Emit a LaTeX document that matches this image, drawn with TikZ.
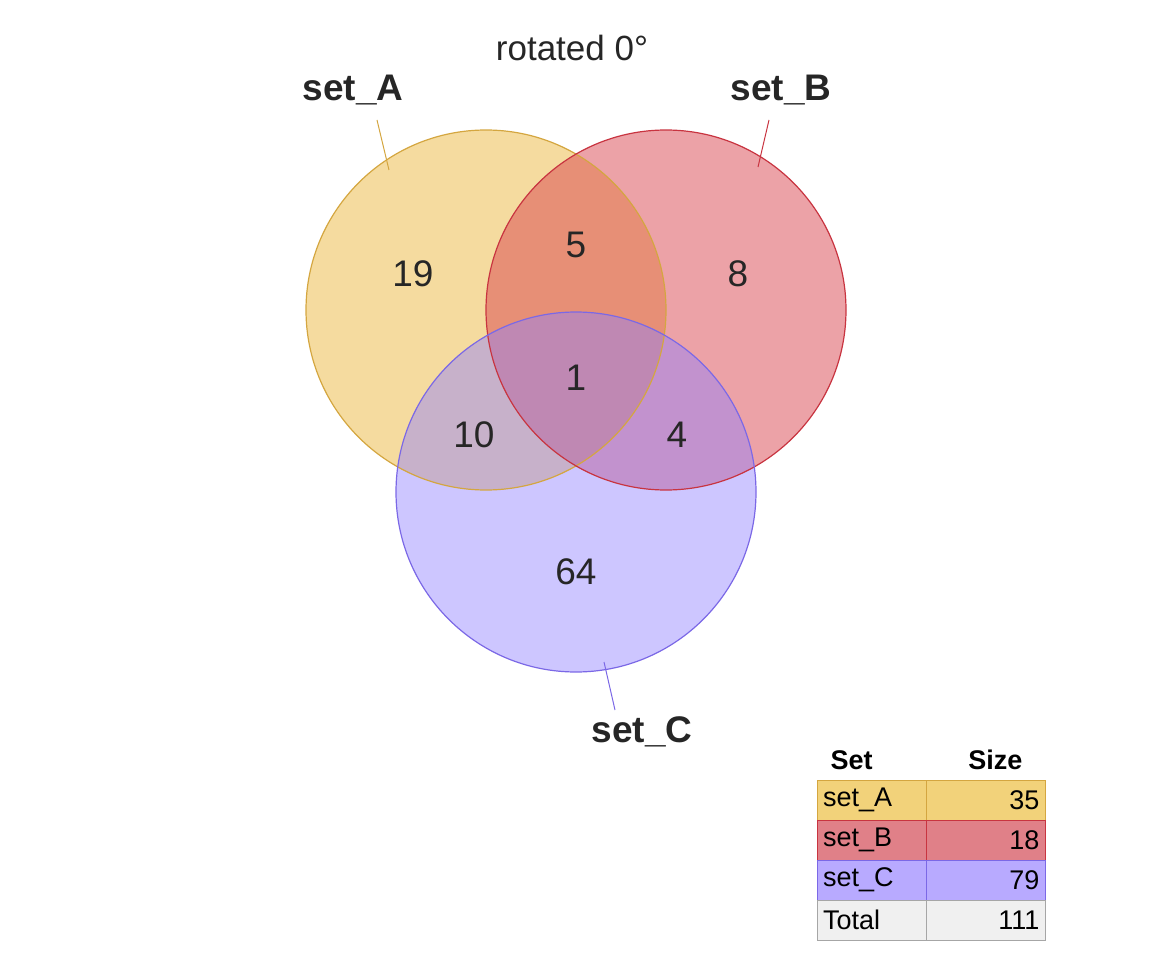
\documentclass[tikz,border=0pt]{standalone}
\usepackage{fontspec}
\setmainfont{Liberation Sans}
\begin{document}
\begin{tikzpicture}[x=1pt,y=-1pt,
  num/.style={font=\fontsize{37}{40}\selectfont, text=black!85},
  lab/.style={font=\fontsize{37}{40}\selectfont\bfseries, text=black!85},
  cell/.style={draw, minimum width=119pt, minimum height=40pt, inner sep=6pt, font=\fontsize{27}{30}\selectfont},
  hdr/.style={font=\fontsize{27}{30}\selectfont\bfseries}]
\definecolor{cA}{HTML}{EDBE50}\definecolor{eA}{HTML}{D4A640}
\definecolor{cB}{HTML}{D9454F}\definecolor{eB}{HTML}{C83440}
\definecolor{cC}{HTML}{9080FF}\definecolor{eC}{HTML}{7B68E6}
\definecolor{tA}{HTML}{F2D27A}\definecolor{tB}{HTML}{E08088}\definecolor{tC}{HTML}{B8AAFF}
\useasboundingbox (0,0) rectangle (1152,960);
\fill[cA, fill opacity=0.55] (486,310) circle (180);
\fill[cB, fill opacity=0.5] (666,310) circle (180);
\fill[cC, fill opacity=0.45] (576,492) circle (180);
\draw[eA, line width=1.2] (486,310) circle (180);
\draw[eB, line width=1.2] (666,310) circle (180);
\draw[eC, line width=1.2] (576,492) circle (180);
\node[num] (n19) at (413,274) {19};
\node[num] (n5) at (576,245) {5};
\node[num] (n8) at (738,274) {8};
\node[num] (n1) at (576,378) {1};
\node[num] (n10) at (474,435) {10};
\node[num] (n4) at (677,435) {4};
\node[num] (n64) at (576,572) {64};
\node[font=\fontsize{35}{38}\selectfont, text=black!85] (title) at (572,48) {rotated 0°};
\node[lab] (lA) at (353,90) {set\_A};
\node[lab] (lB) at (781,90) {set\_B};
\node[lab] (lC) at (642,732) {set\_C};
\coordinate (pA) at (389,170); \coordinate (qA) at (377,120);
\coordinate (pB) at (758,167); \coordinate (qB) at (769,120);
\coordinate (pC) at (604,662); \coordinate (qC) at (615,710);
\draw[eA, line width=1] (qA) -- (pA);
\draw[eB, line width=1] (qB) -- (pB);
\draw[eC, line width=1] (qC) -- (pC);
% table
\node[hdr, anchor=west] (hs) at (827,760) {Set};
\node[hdr, anchor=east] (hz) at (1026,760) {Size};
\node[cell, fill=tA, draw=eA, text width=107pt, align=left] (a1) at (876.5,800) {set\_A};
\node[cell, fill=tA, draw=eA, text width=107pt, align=right] (a2) at (986,800) {35};
\node[cell, fill=tB, draw=eB, text width=107pt, align=left] (b1) at (876.5,840) {set\_B};
\node[cell, fill=tB, draw=eB, text width=107pt, align=right] (b2) at (986,840) {18};
\node[cell, fill=tC, draw=eC, text width=107pt, align=left] (c1) at (876.5,880) {set\_C};
\node[cell, fill=tC, draw=eC, text width=107pt, align=right] (c2) at (986,880) {79};
\node[cell, fill=black!6, draw=black!35, text width=107pt, align=left] (t1) at (876.5,920) {Total};
\node[cell, fill=black!6, draw=black!35, text width=107pt, align=right] (t2) at (986,920) {111};
\end{tikzpicture}
\end{document}
